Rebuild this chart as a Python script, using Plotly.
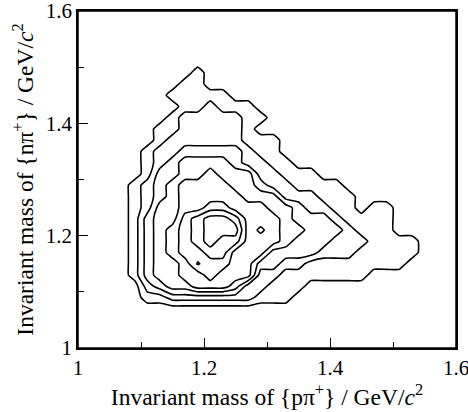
import plotly.graph_objects as go

# Bin centres (GeV/c^2) of the 2D invariant-mass histogram
x_centres = [1.05, 1.07, 1.09, 1.11, 1.13, 1.15, 1.17, 1.19, 1.21, 1.23, 1.25, 1.27, 1.29,
             1.31, 1.33, 1.35, 1.37, 1.39, 1.41, 1.43, 1.45, 1.47, 1.49, 1.51, 1.53, 1.55]
y_centres = [1.07, 1.09, 1.11, 1.13, 1.15, 1.17, 1.19, 1.21, 1.23, 1.25, 1.27, 1.29,
             1.31, 1.33, 1.35, 1.37, 1.39, 1.41, 1.43, 1.45, 1.47, 1.49, 1.51]

# Density level (number of contour steps) read per bin, rows from y=1.07 upwards
row_107 = [0,0,0,0,0,0,0,0,0,0,0,0,0,0,0,0,0,0,0,0,0,0,0,0,0,0]
row_109 = [0,0,0,1,1,2,2,2,2,2,2,2,1,1,1,0,0,0,0,0,0,0,0,0,0,0]
row_111 = [0,0,0,2,3,4,4,5,5,5,4,2,2,1,1,1,0,0,0,0,0,0,0,0,0,0]
row_113 = [0,0,1,3,4,4,5,5,6,5,5,5,2,2,1,1,1,1,1,1,1,0,0,0,0,0]
row_115 = [0,0,1,3,4,4,5,6.6,6,6,5,5,3,3,2,2,1,1,1,1,1,1,1,1,0,0]
row_117 = [0,0,1,3,4,5,6,6,7,7,5,5,5,3,3,3,3,2,2,2,1,1,1,1,1,0]
row_119 = [0,0,1,3,4,5,6,7,8,7,7,5,5,5,4,3,3,3,2,2,2,1,1,1,1,0]
row_121 = [0,0,1,3,4,5,6,7,8,8,8,5,5.7,5,4,4,3,3,3,2,1,1,1,0,0,0]
row_123 = [0,0,1,3,4,4,6,7,8,8,7,5,5,5,4,3,3,3,2,1,1,1,1,0,0,0]
row_125 = [0,0,1,2,4,4,5,5,6,6,5,5,5,4,4,3,2,2,1,1,0,1,1,0,0,0]
row_127 = [0,0,1,2,3,4,5,5,5,5,5,4,4,4,2,2,2,1,1,1,0,0,0,0,0,0]
row_129 = [0,0,1,2,3,4,5,5,5,5,4,4,3,2,2,1,1,1,1,0,0,0,0,0,0,0]
row_131 = [0,0,0,1,3,3,4,4,5,4,4,4,2,2,1,1,1,0,0,0,0,0,0,0,0,0]
row_133 = [0,0,0,1,2,3,4,4,4,4,3,2,2,1,1,0,0,0,0,0,0,0,0,0,0,0]
row_135 = [0,0,0,1,2,2,3,3,3,3,3,2,1,1,0,0,0,0,0,0,0,0,0,0,0,0]
row_137 = [0,0,0,0,1,2,2,2,2,2,2,1,1,1,0,0,0,0,0,0,0,0,0,0,0,0]
row_139 = [0,0,0,0,1,1,2,2,2,2,2,1,0,0,0,0,0,0,0,0,0,0,0,0,0,0]
row_141 = [0,0,0,0,0,1,2,2,2,2,2,1,1,0,0,0,0,0,0,0,0,0,0,0,0,0]
row_143 = [0,0,0,0,0,0,1,1,2,1,1,1,0,0,0,0,0,0,0,0,0,0,0,0,0,0]
row_145 = [0,0,0,0,0,1,1,1,1,1,0,0,0,0,0,0,0,0,0,0,0,0,0,0,0,0]
row_147 = [0,0,0,0,0,0,1,1,0,0,0,0,0,0,0,0,0,0,0,0,0,0,0,0,0,0]
row_149 = [0,0,0,0,0,0,0,1,0,0,0,0,0,0,0,0,0,0,0,0,0,0,0,0,0,0]
row_151 = [0,0,0,0,0,0,0,0,0,0,0,0,0,0,0,0,0,0,0,0,0,0,0,0,0,0]

density_levels = [row_107, row_109, row_111, row_113, row_115, row_117, row_119, row_121,
                  row_123, row_125, row_127, row_129, row_131, row_133, row_135, row_137,
                  row_139, row_141, row_143, row_145, row_147, row_149, row_151]

axis_range = [1.0, 1.6]
tick_values = [1.0, 1.2, 1.4, 1.6]
tick_labels = ["1", "1.2", "1.4", "1.6"]
minor_tick_values = [1.1, 1.3, 1.5]

fig = go.Figure()
fig.add_trace(go.Contour(
    x=x_centres, y=y_centres, z=density_levels,
    contours=dict(start=0.5, end=7.5, size=1, coloring="none"),
    line=dict(color="black", width=1.6, smoothing=0.45),
    showscale=False, hoverinfo="skip",
))

serif = "Liberation Serif, Times New Roman, serif"
axis_common = dict(
    range=axis_range, showgrid=False, zeroline=False, automargin=False,
    showline=True, linecolor="black", linewidth=1.5, mirror=True,
    ticks="inside", ticklen=10, tickwidth=1, tickcolor="black",
    tickvals=tick_values, ticktext=tick_labels, ticklabeloverflow="allow",
    tickfont=dict(family=serif, size=21, color="black"),
    minor=dict(tickvals=minor_tick_values, ticks="inside", ticklen=6,
               tickwidth=1, tickcolor="black"),
)

fig.update_layout(
    width=468, height=412,
    margin=dict(l=78, r=12, t=11, b=64),
    paper_bgcolor="white", plot_bgcolor="white",
    showlegend=False,
    xaxis=dict(**axis_common,
               title=dict(text="Invariant mass of {pπ<sup>+</sup>} / GeV/<i>c</i><sup>2</sup>",
                          font=dict(family=serif, size=23.5, color="black"), standoff=6)),
    yaxis=dict(**axis_common,
               title=dict(text="Invariant mass of {nπ<sup>+</sup>} / GeV/<i>c</i><sup>2</sup>",
                          font=dict(family=serif, size=23.5, color="black"), standoff=6)),
    shapes=[dict(type="rect", xref="paper", yref="paper", x0=0, y0=0, x1=1, y1=1,
                 line=dict(color="black", width=1.5), fillcolor="rgba(0,0,0,0)",
                 layer="above")],
)

fig.write_html("out.html")
